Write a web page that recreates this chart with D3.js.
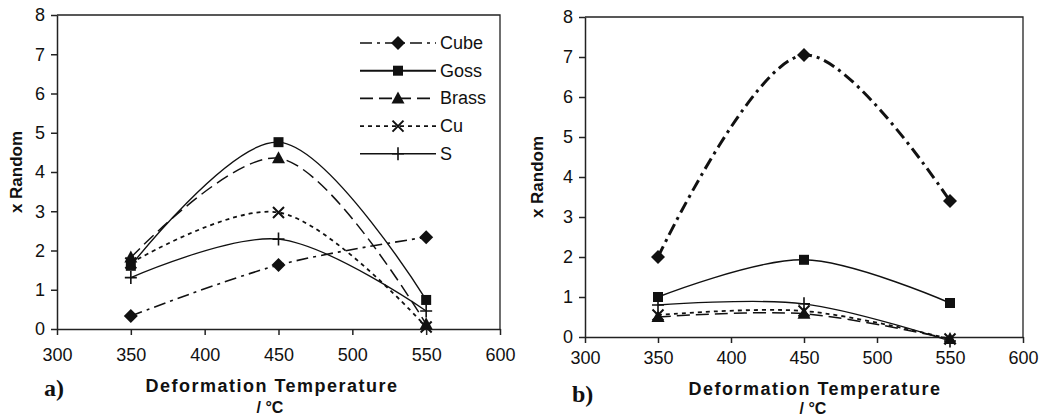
<!DOCTYPE html>
<html>
<head>
<meta charset="utf-8">
<script src="https://cdn.jsdelivr.net/npm/d3@7"></script>
<style>
  body { margin: 0; background: #fff; }
  svg { display: block; }
  text { font-family: "Liberation Sans", Arial, sans-serif; fill: #111; }
</style>
</head>
<body>
<div id="chart"></div>
<script>
// data
var temps = [350, 450, 550];
var xTicks = [300, 350, 400, 450, 500, 550, 600];
var yTicks = [0, 1, 2, 3, 4, 5, 6, 7, 8];
var seriesNames = ["Cube", "Goss", "Brass", "Cu", "S"];

// panel a)
var aCube  = [0.33, 1.63, 2.34];
var aGoss  = [1.61, 4.76, 0.74];
var aBrass = [1.82, 4.35, 0.12];
var aCu    = [1.68, 2.97, 0.05];
var aS     = [1.31, 2.29, 0.46];

// panel b)
var bCube  = [2.0, 7.05, 3.4];
var bGoss  = [1.0, 1.93, 0.85];
var bBrass = [0.5, 0.58, -0.05];
var bCu    = [0.55, 0.65, -0.05];
var bS     = [0.8, 0.83, -0.1];

var W = 1042, H = 419;
var svg = d3.select("#chart").append("svg").attr("width", W).attr("height", H);

// line style per series
var styles = {
  Cube:  { dash: "12,5,3,5", sym: "diamond", w: 1.6 },
  Goss:  { dash: null,       sym: "square",  w: 1.4 },
  Brass: { dash: "13,6",     sym: "triangle",w: 1.5 },
  Cu:    { dash: "4,4",      sym: "cross",   w: 1.8 },
  S:     { dash: null,       sym: "plus",    w: 1.3 }
};

function drawMarker(g, type, x, y) {
  var t = "translate(" + x + "," + y + ")";
  if (type === "diamond") {
    g.append("path").attr("d", "M0,-7L7,0L0,7L-7,0Z").attr("transform", t).attr("fill", "#111");
  } else if (type === "square") {
    g.append("path").attr("d", "M-5,-5H5V5H-5Z").attr("transform", t).attr("fill", "#111");
  } else if (type === "triangle") {
    g.append("path").attr("d", "M0,-7L6.5,5L-6.5,5Z").attr("transform", t).attr("fill", "#111");
  } else if (type === "cross") {
    g.append("path").attr("d", "M-5.5,-5.5L5.5,5.5M-5.5,5.5L5.5,-5.5")
      .attr("transform", t).attr("stroke", "#111").attr("stroke-width", 2).attr("fill", "none");
  } else if (type === "plus") {
    g.append("path").attr("d", "M-6,0L6,0M0,-6.5L0,6.5")
      .attr("transform", t).attr("stroke", "#111").attr("stroke-width", 1.6).attr("fill", "none");
  }
}

function panel(opts) {
  var x = d3.scaleLinear().domain([300, 600]).range(opts.xr);
  var y = d3.scaleLinear().domain([0, 8]).range(opts.yr);
  var g = svg.append("g");

  // frame (top and right)
  g.append("path")
    .attr("d", "M" + opts.xr[0] + "," + opts.yr[1] + "L" + opts.xr[1] + "," + opts.yr[1] +
               "L" + opts.xr[1] + "," + opts.yr[0])
    .attr("stroke", "#222").attr("stroke-width", 1.3).attr("fill", "none");

  var xAxis = g.append("g").attr("transform", "translate(0," + opts.yr[0] + ")")
    .call(d3.axisBottom(x).tickValues(xTicks).tickSize(6).tickSizeOuter(0).tickPadding(opts.xpad));
  var yAxis = g.append("g").attr("transform", "translate(" + opts.xr[0] + ",0)")
    .call(d3.axisLeft(y).tickValues(yTicks).tickSize(6).tickSizeOuter(0).tickPadding(6));
  [xAxis, yAxis].forEach(function (a) {
    a.selectAll("path, line").attr("stroke", "#222").attr("stroke-width", 1.5);
    a.selectAll("text").style("font-size", "18px").attr("fill", "#111")
      .style("font-family", "'Liberation Sans', Arial, sans-serif");
  });

  var line = d3.line()
    .x(function (d) { return x(d[0]); })
    .y(function (d) { return y(d[1]); })
    .curve(d3.curveCatmullRom.alpha(0.5));

  opts.series.forEach(function (s) {
    var st = styles[s.name];
    var pts = temps.map(function (t, i) { return [t, s.values[i]]; });
    g.append("path").datum(pts).attr("d", line)
      .attr("fill", "none").attr("stroke", "#111")
      .attr("stroke-width", s.w || st.w)
      .attr("stroke-dasharray", st.dash);
    pts.forEach(function (p) { drawMarker(g, st.sym, x(p[0]), y(p[1])); });
  });

  // axis titles
  g.append("text").attr("transform", "translate(" + opts.ylab[0] + "," + opts.ylab[1] + ") rotate(-90)")
    .attr("text-anchor", "middle").style("font-size", "17px").style("font-weight", "bold")
    .text("x Random");
  g.append("text").attr("x", opts.xlab[0]).attr("y", opts.xlab[1])
    .attr("text-anchor", "middle").style("font-size", "18px").style("font-weight", "bold")
    .style("letter-spacing", "1.5px").text("Deformation Temperature");
  g.append("text").attr("x", opts.unit[0]).attr("y", opts.unit[1])
    .attr("text-anchor", "middle").style("font-size", "16px").style("font-weight", "bold")
    .text("/ °C");
  g.append("text").attr("x", opts.tag[0]).attr("y", opts.tag[1])
    .style("font-family", "'Liberation Serif', 'Times New Roman', serif")
    .style("font-size", "24px").style("font-weight", "bold").text(opts.label);
  return g;
}

var ga = panel({
  xr: [57, 500], yr: [329, 15], xpad: 13,
  ylab: [22, 172], xlab: [272, 392], unit: [270, 413], tag: [44, 396], label: "a)",
  series: [
    { name: "Cube", values: aCube },
    { name: "Goss", values: aGoss },
    { name: "Brass", values: aBrass },
    { name: "Cu", values: aCu },
    { name: "S", values: aS }
  ]
});

panel({
  xr: [585, 1023], yr: [337, 17], xpad: 8,
  ylab: [543, 177], xlab: [815, 395], unit: [813, 414], tag: [572, 402], label: "b)",
  series: [
    { name: "Cube", values: bCube, w: 3 },
    { name: "Goss", values: bGoss },
    { name: "Brass", values: bBrass },
    { name: "Cu", values: bCu },
    { name: "S", values: bS }
  ]
});

// legend (panel a)
var leg = ga.append("g");
seriesNames.forEach(function (n, i) {
  var st = styles[n];
  var yy = 43 + i * 27.7;
  leg.append("line").attr("x1", 360).attr("x2", 436).attr("y1", yy).attr("y2", yy)
    .attr("stroke", "#111").attr("stroke-width", n === "Goss" ? 2 : 1.6)
    .attr("stroke-dasharray", st.dash);
  drawMarker(leg, st.sym, 398, yy);
  leg.append("text").attr("x", 440).attr("y", yy + 6).style("font-size", "18px").text(n);
});
</script>
</body>
</html>
